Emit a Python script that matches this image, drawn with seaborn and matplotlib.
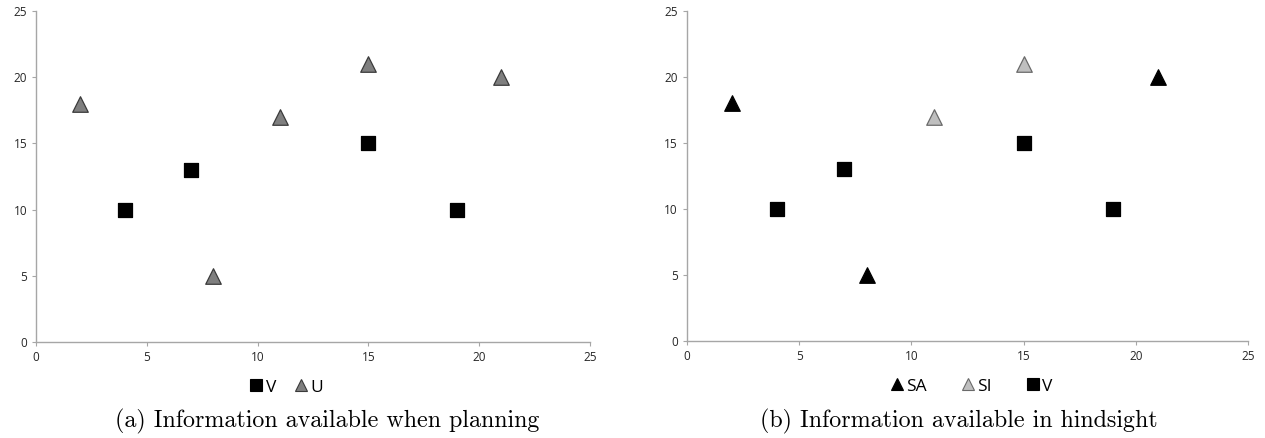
import matplotlib
matplotlib.use("Agg")
import matplotlib.pyplot as plt
from matplotlib.lines import Line2D
import seaborn as sns
import pandas as pd

# Vehicle positions (squares)
v_x = [4, 7, 15, 19]
v_y = [10, 13, 15, 10]

# Planning view: all tasks are uncertain (U)
u_x = [2, 8, 11, 15, 21]
u_y = [18, 5, 17, 21, 20]

# Hindsight view: tasks split into SA and SI
sa_x = [2, 8, 21]
sa_y = [18, 5, 20]
si_x = [11, 15]
si_y = [17, 21]

axis_ticks = [0, 5, 10, 15, 20, 25]
captions = ["(a) Information available when planning",
            "(b) Information available in hindsight"]

sns.set_theme(style="white")
plt.rcParams["font.family"] = ["Open Sans", "DejaVu Sans"]

fig = plt.figure(figsize=(12.65, 4.38), dpi=100)
ax_a = fig.add_axes([0.0285, 0.219, 0.4380, 0.756])
ax_b = fig.add_axes([0.5431, 0.221, 0.4435, 0.754])

SPINE = "#a6a6a6"
TXT = "#262626"

styles = {
    "V": dict(marker="s", color="black", edgecolor="black", s=100),
    "U": dict(marker="^", color="#7f7f7f", edgecolor="#3a3a3a", s=125),
    "SA": dict(marker="^", color="black", edgecolor="black", s=125),
    "SI": dict(marker="^", color="#bfbfbf", edgecolor="#6a6a6a", s=125),
}


def draw(ax, series):
    for name, xs, ys in series:
        st = styles[name]
        df = pd.DataFrame({"x": xs, "y": ys})
        sns.scatterplot(data=df, x="x", y="y", ax=ax, marker=st["marker"],
                        color=st["color"], edgecolor=st["edgecolor"],
                        linewidth=0.9, s=st["s"], zorder=3, legend=False)
    ax.set_xlim(0, 25)
    ax.set_ylim(0, 25)
    ax.set_xticks(axis_ticks)
    ax.set_yticks(axis_ticks)
    ax.set_xlabel("")
    ax.set_ylabel("")
    for side in ("top", "right"):
        ax.spines[side].set_visible(False)
    for side in ("left", "bottom"):
        ax.spines[side].set_color(SPINE)
        ax.spines[side].set_linewidth(1.0)
    ax.tick_params(axis="both", which="major", direction="out", length=3,
                   width=0.8, color=SPINE, labelsize=8.5, labelcolor=TXT,
                   pad=3.5, bottom=True, left=True)
    handles = []
    for name, _, _ in series:
        st = styles[name]
        handles.append(Line2D([], [], linestyle="none", marker=st["marker"],
                              markerfacecolor=st["color"],
                              markeredgecolor=st["edgecolor"],
                              markeredgewidth=0.8, markersize=9, label=name))
    return handles


h_a = draw(ax_a, [("V", v_x, v_y), ("U", u_x, u_y)])
h_b = draw(ax_b, [("SA", sa_x, sa_y), ("SI", si_x, si_y), ("V", v_x, v_y)])

leg_kw = dict(loc="center", frameon=False, handletextpad=0.1,
              handlelength=0.9, prop={"size": 12.5}, labelcolor="black",
              borderpad=0.0)
ax_a.legend(handles=h_a, ncol=2, bbox_to_anchor=(0.451, -0.137),
            columnspacing=1.0, **leg_kw)
ax_b.legend(handles=h_b, ncol=3, bbox_to_anchor=(0.506, -0.137),
            columnspacing=1.9, **leg_kw)

fig.text(0.259, 0.037, captions[0], ha="center", va="center",
         fontfamily="cmr10", fontsize=17.3, color="black")
fig.text(0.758, 0.037, captions[1], ha="center", va="center",
         fontfamily="cmr10", fontsize=17.3, color="black")

fig.savefig("out.png", dpi=100, facecolor="white")
